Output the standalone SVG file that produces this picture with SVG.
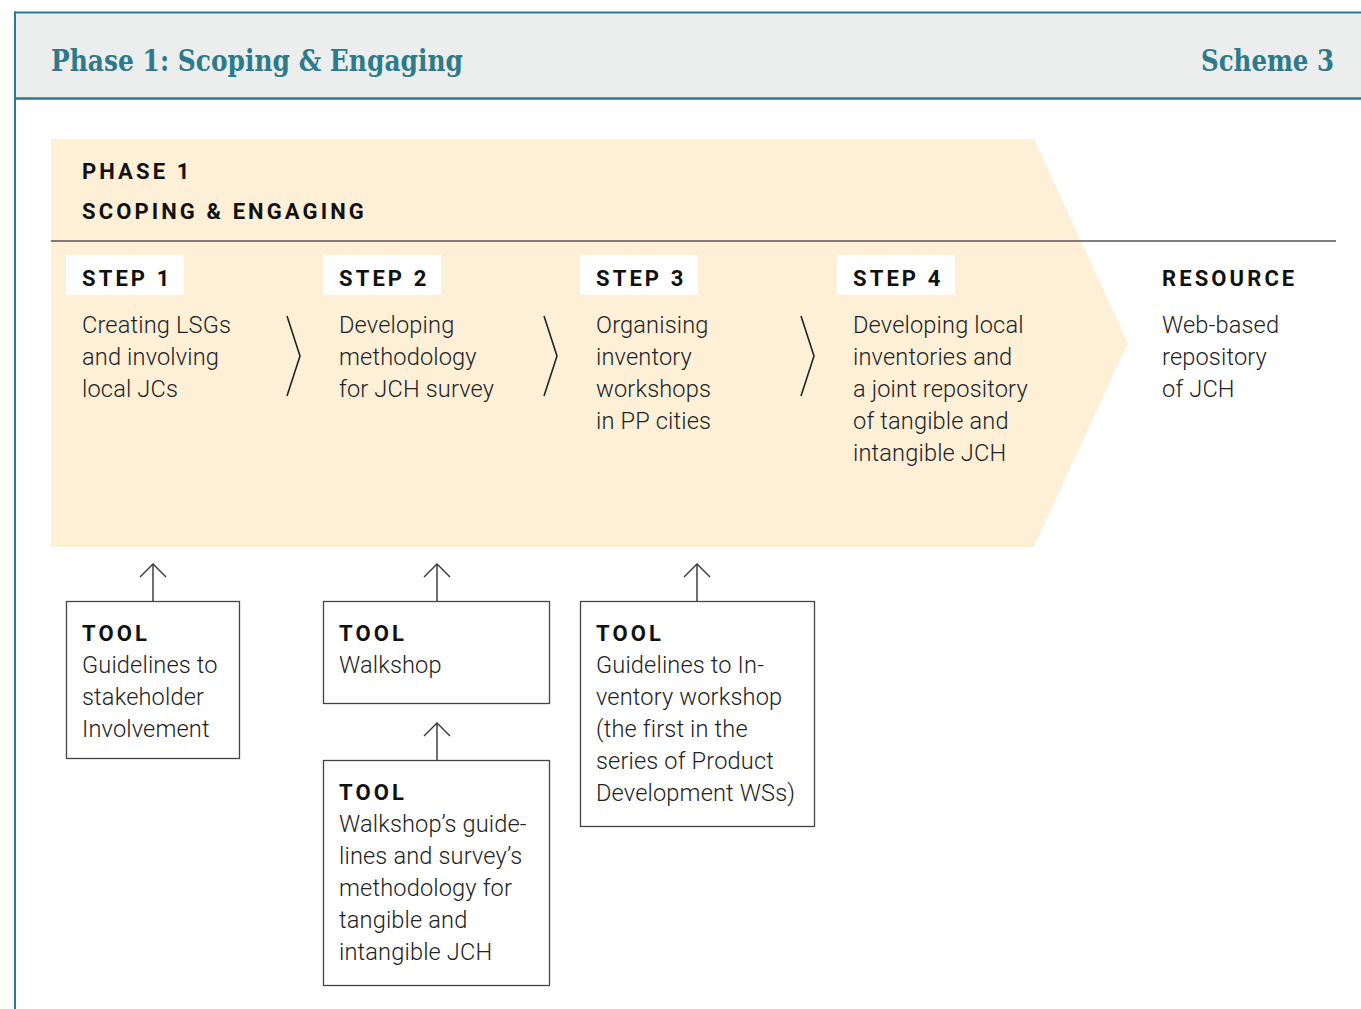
<svg xmlns="http://www.w3.org/2000/svg" width="1361" height="1009" viewBox="0 0 1361 1009">
<style>
.title{font-family:"DejaVu Serif","Liberation Serif",serif;font-weight:bold;fill:#2d7a8a;font-size:29px}
.hd{font-family:Roboto,"Liberation Sans",sans-serif;font-weight:bold;font-size:22px;letter-spacing:3.1px;fill:#111}
.tx{font-family:Roboto,"Liberation Sans",sans-serif;font-weight:300;font-size:23.6px;letter-spacing:0.15px;fill:#222}
.box{fill:#fff;stroke:#444;stroke-width:1.3}
.ln{fill:none;stroke:#222;stroke-width:1.6}
</style>
<rect x="0" y="0" width="1361" height="1009" fill="#fff"/>
<g id="header">
<rect x="15" y="12" width="1346" height="87" fill="#eceeed"/>
<line x1="14" y1="12.5" x2="1361" y2="12.5" stroke="#2d7a8a" stroke-width="2"/>
<line x1="14" y1="98.5" x2="1361" y2="98.5" stroke="#2d7a8a" stroke-width="2.5"/>
<line x1="15" y1="11.5" x2="15" y2="1009" stroke="#2d7a8a" stroke-width="2"/>
<text class="title" x="51" y="71" textLength="412" lengthAdjust="spacingAndGlyphs">Phase 1: Scoping &amp; Engaging</text>
<text class="title" x="1334" y="71" text-anchor="end" textLength="133" lengthAdjust="spacingAndGlyphs">Scheme 3</text>
</g>
<g id="phase">
<polygon points="51,139 1034,139 1128,343 1034,547 51,547" fill="#fef0d7"/>
<line x1="51" y1="241" x2="1336" y2="241" stroke="#555" stroke-width="1.3"/>
<text class="hd" x="82" y="179">PHASE 1</text>
<text class="hd" x="82" y="219">SCOPING &amp; ENGAGING</text>
</g>
<g id="step1">
<rect x="66" y="255" width="118" height="40" fill="#fff"/>
<text class="hd" x="82" y="286">STEP 1</text>
<text class="tx" x="82" y="333">Creating LSGs</text>
<text class="tx" x="82" y="365">and involving</text>
<text class="tx" x="82" y="397">local JCs</text>
</g>
<g id="step2">
<rect x="323" y="255" width="118" height="40" fill="#fff"/>
<text class="hd" x="339" y="286">STEP 2</text>
<text class="tx" x="339" y="333">Developing</text>
<text class="tx" x="339" y="365">methodology</text>
<text class="tx" x="339" y="397">for JCH survey</text>
</g>
<g id="step3">
<rect x="580" y="255" width="118" height="40" fill="#fff"/>
<text class="hd" x="596" y="286">STEP 3</text>
<text class="tx" x="596" y="333">Organising</text>
<text class="tx" x="596" y="365">inventory</text>
<text class="tx" x="596" y="397">workshops</text>
<text class="tx" x="596" y="429">in PP cities</text>
</g>
<g id="step4">
<rect x="837" y="255" width="118" height="40" fill="#fff"/>
<text class="hd" x="853" y="286">STEP 4</text>
<text class="tx" x="853" y="333">Developing local</text>
<text class="tx" x="853" y="365">inventories and</text>
<text class="tx" x="853" y="397">a joint repository</text>
<text class="tx" x="853" y="429">of tangible and</text>
<text class="tx" x="853" y="461">intangible JCH</text>
</g>
<g id="resource">
<text class="hd" x="1162" y="286">RESOURCE</text>
<text class="tx" x="1162" y="333">Web-based</text>
<text class="tx" x="1162" y="365">repository</text>
<text class="tx" x="1162" y="397">of JCH</text>
</g>
<g id="tool1">
<rect class="box" x="66.5" y="601.5" width="173" height="157"/>
<text class="hd" x="82" y="641">TOOL</text>
<text class="tx" x="82" y="673">Guidelines to</text>
<text class="tx" x="82" y="705">stakeholder</text>
<text class="tx" x="82" y="737">Involvement</text>
</g>
<g id="tool2">
<rect class="box" x="323.5" y="601.5" width="226" height="102"/>
<text class="hd" x="339" y="641">TOOL</text>
<text class="tx" x="339" y="673">Walkshop</text>
</g>
<g id="tool3">
<rect class="box" x="580.5" y="601.5" width="234" height="225"/>
<text class="hd" x="596" y="641">TOOL</text>
<text class="tx" x="596" y="673">Guidelines to In-</text>
<text class="tx" x="596" y="705">ventory workshop</text>
<text class="tx" x="596" y="737">(the first in the</text>
<text class="tx" x="596" y="769">series of Product</text>
<text class="tx" x="596" y="801">Development WSs)</text>
</g>
<g id="tool4">
<rect class="box" x="323.5" y="760.5" width="226" height="225"/>
<text class="hd" x="339" y="800">TOOL</text>
<text class="tx" x="339" y="832">Walkshop’s guide-</text>
<text class="tx" x="339" y="864">lines and survey’s</text>
<text class="tx" x="339" y="896">methodology for</text>
<text class="tx" x="339" y="928">tangible and</text>
<text class="tx" x="339" y="960">intangible JCH</text>
</g>
<g id="connectors">
<polyline class="ln" points="287,316 300,356 287,396"/>
<polyline class="ln" points="544,316 557,356 544,396"/>
<polyline class="ln" points="801,316 814,356 801,396"/>
<g stroke="#333" stroke-width="1.4" fill="none">
<line x1="153" y1="601" x2="153" y2="564"/><polyline points="140,577 153,564 166,577"/>
<line x1="437" y1="601" x2="437" y2="564"/><polyline points="424,577 437,564 450,577"/>
<line x1="697" y1="601" x2="697" y2="564"/><polyline points="684,577 697,564 710,577"/>
<line x1="437" y1="760" x2="437" y2="723"/><polyline points="424,736 437,723 450,736"/>
</g>
</g>
</svg>
